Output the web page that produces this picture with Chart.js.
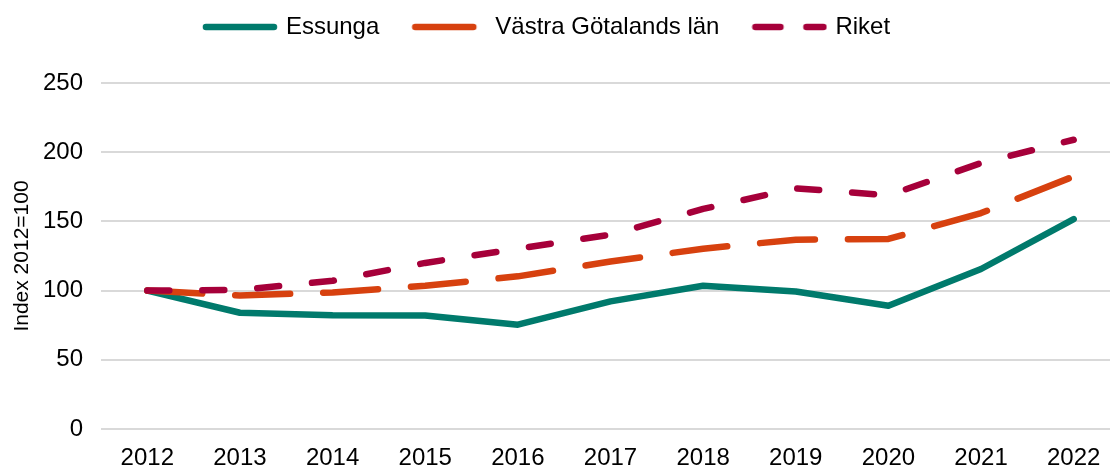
<!DOCTYPE html>
<html lang="sv">
<head>
<meta charset="utf-8">
<title>Index 2012=100</title>
<script src="https://cdn.jsdelivr.net/npm/chart.js"></script>
<style>
  html, body { margin: 0; padding: 0; background: #fff; }
  body { width: 1110px; height: 468px; overflow: hidden; }
  #chart { display: block; }
</style>
</head>
<body>
<canvas id="chart" width="1120" height="468"></canvas>
<script>
const years = ["2012", "2013", "2014", "2015", "2016", "2017", "2018", "2019", "2020", "2021", "2022"];
const essunga = [100, 84, 82.1, 82, 75.4, 92.2, 103.5, 99.4, 89, 115.6, 151.7];
const vastraGotaland = [100, 96.5, 98.7, 103.5, 110.3, 121, 130.3, 136.8, 137.3, 156, 182.5];
const riket = [100, 100.5, 107.1, 120, 130.3, 140.4, 159, 173.9, 168.8, 192.2, 209];
const yTicks = [0, 50, 100, 150, 200, 250];

const FONT = "'Liberation Sans', Arial, sans-serif";
const LINE_W = 6.5;

// nudge the legend up and a little to the left, like the original
const legendNudge = {
  id: "legendNudge",
  afterLayout(chart) {
    const lg = chart.legend;
    lg.top -= 34;
    lg.bottom -= 34;
    lg.right -= 24;
  },
};

// small canvas used as legend symbol, so the legend keeps dashes and round caps
function legendSwatch(color, dash) {
  const c = document.createElement("canvas");
  c.width = 76;
  c.height = 12;
  const ctx = c.getContext("2d");
  ctx.strokeStyle = color;
  ctx.lineWidth = LINE_W;
  ctx.lineCap = "round";
  ctx.setLineDash(dash);
  ctx.beginPath();
  ctx.moveTo(4, 6);
  ctx.lineTo(72, 6);
  ctx.stroke();
  return c;
}

function lineSet(label, data, color, dash, legendDash) {
  return {
    label: label,
    data: data,
    borderColor: color,
    backgroundColor: color,
    borderWidth: LINE_W,
    borderDash: dash,
    borderCapStyle: "round",
    borderJoinStyle: "round",
    pointRadius: 0,
    pointHoverRadius: 0,
    pointStyle: legendSwatch(color, legendDash),
    tension: 0,
    fill: false,
  };
}

const chart = new Chart(document.getElementById("chart"), {
  type: "line",
  data: {
    labels: years,
    // Riket first so it is drawn on top
    datasets: [
      lineSet("Riket", riket, "#a6003a", [22, 33], [25, 26]),
      lineSet("Västra Götalands län", vastraGotaland, "#d7410f", [55, 33], [58, 40]),
      lineSet("Essunga", essunga, "#007a6c", [], []),
    ],
  },
  options: {
    responsive: false,
    animation: false,
    devicePixelRatio: 1,
    layout: { padding: { top: 13, left: 0, right: 0, bottom: 0 } },
    plugins: {
      tooltip: { enabled: false },
      legend: {
        position: "top",
        labels: {
          usePointStyle: true,
          pointStyleWidth: 68,
          padding: 36,
          color: "#000",
          font: { family: FONT, size: 24 },
          sort: (a, b) => b.datasetIndex - a.datasetIndex,
        },
      },
    },
    scales: {
      x: {
        offset: true,
        grid: { display: false, drawTicks: false },
        border: { display: false },
        ticks: {
          color: "#000",
          padding: 15,
          maxRotation: 0,
          autoSkip: false,
          font: { family: FONT, size: 24 },
        },
        afterFit(scale) {
          scale.height = 39;
        },
      },
      y: {
        min: 0,
        max: 250,
        grid: { color: "#d9d9d9", lineWidth: 2, drawTicks: false },
        border: { display: false },
        afterBuildTicks(scale) {
          scale.ticks = yTicks.map((v) => ({ value: v }));
        },
        ticks: {
          color: "#000",
          padding: 18,
          font: { family: FONT, size: 24 },
        },
        title: {
          display: true,
          text: "Index 2012=100",
          color: "#000",
          padding: { top: 10, bottom: 0 },
          font: { family: FONT, size: 21 },
        },
        afterFit(scale) {
          scale.width = 101;
        },
      },
    },
  },
  plugins: [legendNudge],
});
</script>
</body>
</html>
